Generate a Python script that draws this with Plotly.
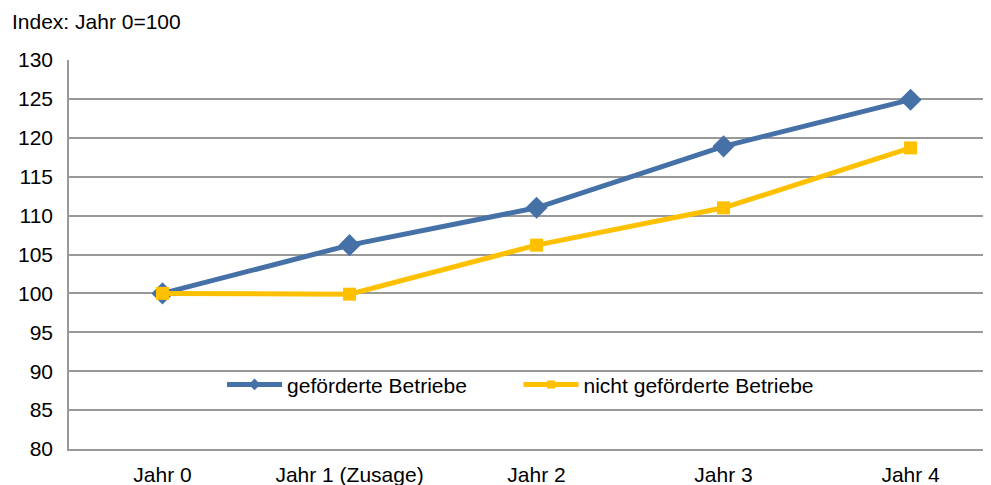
import plotly.graph_objects as go

jahre = ["Jahr 0", "Jahr 1 (Zusage)", "Jahr 2", "Jahr 3", "Jahr 4"]
gefoerdert = [100, 106.2, 111, 118.9, 124.9]
nicht_gefoerdert = [100, 99.9, 106.2, 111, 118.7]

blau = "#4571A6"
gelb = "#FFC000"

fig = go.Figure()

# Datenlinien (ohne Legende)
fig.add_trace(
    go.Scatter(
        x=jahre,
        y=gefoerdert,
        mode="lines+markers",
        showlegend=False,
        line=dict(color=blau, width=5),
        marker=dict(symbol="diamond", size=17, color=blau),
    )
)
fig.add_trace(
    go.Scatter(
        x=jahre,
        y=nicht_gefoerdert,
        mode="lines+markers",
        showlegend=False,
        line=dict(color=gelb, width=5),
        marker=dict(symbol="square", size=13, color=gelb),
    )
)

# Legendeneinträge mit kleineren Markern
fig.add_trace(
    go.Scatter(
        x=[None],
        y=[None],
        mode="lines+markers",
        name="geförderte Betriebe        ",
        line=dict(color=blau, width=5),
        marker=dict(symbol="diamond", size=9, color=blau),
    )
)
fig.add_trace(
    go.Scatter(
        x=[None],
        y=[None],
        mode="lines+markers",
        name="nicht geförderte Betriebe",
        line=dict(color=gelb, width=5),
        marker=dict(symbol="square", size=8, color=gelb),
    )
)

# Seite hat 8px Body-Rand, daher Ränder entsprechend verkleinert
fig.update_layout(
    width=991,
    height=485,
    plot_bgcolor="white",
    paper_bgcolor="white",
    font=dict(family="Liberation Sans, Arial", size=21, color="black"),
    margin=dict(l=61, r=8, t=52, b=44),
    showlegend=True,
    legend=dict(
        orientation="h",
        x=0.166,
        y=0.165,
        xanchor="left",
        yanchor="middle",
        bgcolor="rgba(0,0,0,0)",
        font=dict(size=21),
        itemwidth=55,
    ),
    annotations=[
        dict(
            text="Index: Jahr 0=100",
            xref="paper",
            yref="paper",
            x=-0.064,
            y=1.098,
            xanchor="left",
            yanchor="middle",
            showarrow=False,
            font=dict(size=21),
        )
    ],
)

fig.update_xaxes(
    type="category",
    range=[-0.5, 4.43],
    showgrid=False,
    showline=True,
    linecolor="#999999",
    linewidth=1.5,
    ticks="",
    ticklabelstandoff=6,
    tickfont=dict(size=21),
    automargin=False,
)
fig.update_yaxes(
    range=[80, 130],
    dtick=5,
    showgrid=True,
    gridcolor="#999999",
    gridwidth=1.5,
    showline=True,
    linecolor="#999999",
    linewidth=1.5,
    zeroline=False,
    ticks="",
    ticklabelstandoff=10,
    tickfont=dict(size=21),
    automargin=False,
)

fig.write_html("out.html")
